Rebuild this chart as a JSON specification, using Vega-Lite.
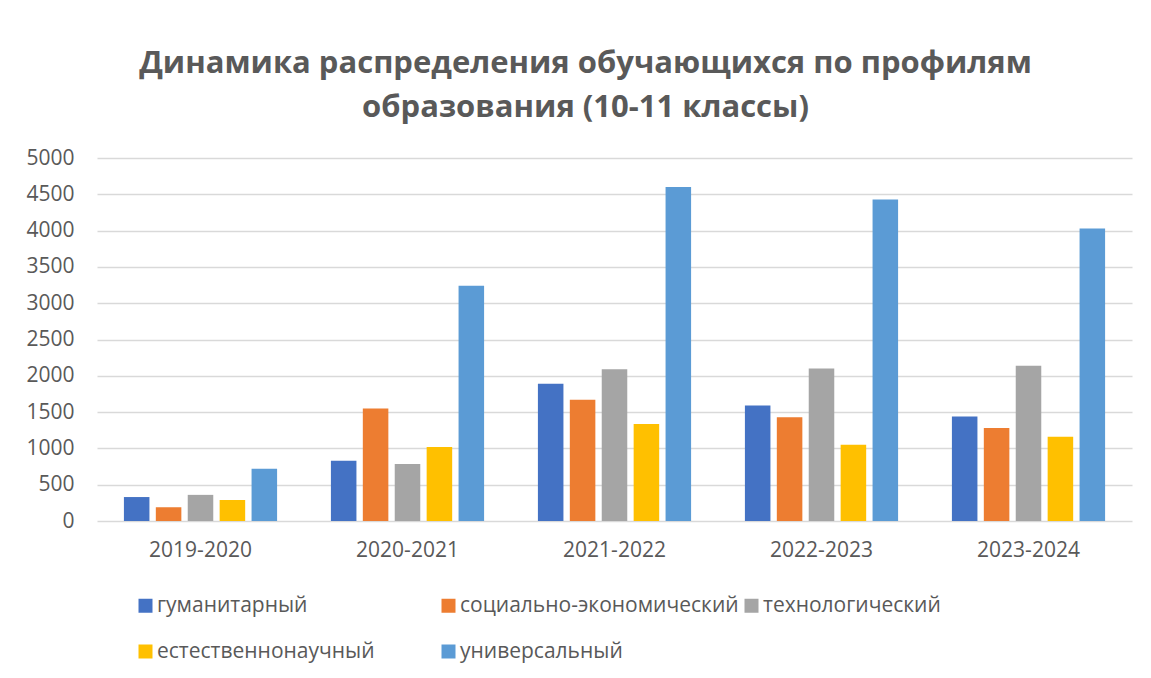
{
  "$schema": "https://vega.github.io/schema/vega-lite/v6.json",
  "width": 1035,
  "height": 363,
  "autosize": {"type": "none"},
  "padding": {"left": 97, "top": 158, "right": 19, "bottom": 157},
  "background": "white",
  "config": {
    "font": "Open Sans",
    "view": {"stroke": null}
  },
  "title": {
    "text": ["Динамика распределения обучающихся по профилям", "образования (10-11 классы)"],
    "font": "Open Sans",
    "fontSize": 31,
    "fontWeight": "bold",
    "color": "#595959",
    "lineHeight": 44,
    "anchor": "middle",
    "dx": -29,
    "offset": 23
  },
  "data": {
    "values": [
      {"year": "2019-2020", "profile": "гуманитарный", "value": 330},
      {"year": "2019-2020", "profile": "социально-экономический", "value": 190},
      {"year": "2019-2020", "profile": "технологический", "value": 360},
      {"year": "2019-2020", "profile": "естественнонаучный", "value": 290},
      {"year": "2019-2020", "profile": "универсальный", "value": 720},
      {"year": "2020-2021", "profile": "гуманитарный", "value": 830},
      {"year": "2020-2021", "profile": "социально-экономический", "value": 1550},
      {"year": "2020-2021", "profile": "технологический", "value": 785},
      {"year": "2020-2021", "profile": "естественнонаучный", "value": 1020},
      {"year": "2020-2021", "profile": "универсальный", "value": 3240},
      {"year": "2021-2022", "profile": "гуманитарный", "value": 1890},
      {"year": "2021-2022", "profile": "социально-экономический", "value": 1670},
      {"year": "2021-2022", "profile": "технологический", "value": 2090},
      {"year": "2021-2022", "profile": "естественнонаучный", "value": 1335},
      {"year": "2021-2022", "profile": "универсальный", "value": 4600},
      {"year": "2022-2023", "profile": "гуманитарный", "value": 1590},
      {"year": "2022-2023", "profile": "социально-экономический", "value": 1430},
      {"year": "2022-2023", "profile": "технологический", "value": 2100},
      {"year": "2022-2023", "profile": "естественнонаучный", "value": 1050},
      {"year": "2022-2023", "profile": "универсальный", "value": 4430},
      {"year": "2023-2024", "profile": "гуманитарный", "value": 1440},
      {"year": "2023-2024", "profile": "социально-экономический", "value": 1280},
      {"year": "2023-2024", "profile": "технологический", "value": 2140},
      {"year": "2023-2024", "profile": "естественнонаучный", "value": 1160},
      {"year": "2023-2024", "profile": "универсальный", "value": 4030}
    ]
  },
  "mark": {"type": "bar"},
  "encoding": {
    "x": {
      "field": "year",
      "type": "nominal",
      "sort": null,
      "scale": {"paddingInner": 0.26, "paddingOuter": 0.13},
      "axis": {
        "title": null,
        "labelAngle": 0,
        "labelFontSize": 21,
        "labelColor": "#595959",
        "labelFont": "Open Sans",
        "labelPadding": 18,
        "ticks": false,
        "domain": false
      }
    },
    "xOffset": {
      "field": "profile",
      "type": "nominal",
      "sort": ["гуманитарный", "социально-экономический", "технологический", "естественнонаучный", "универсальный"],
      "scale": {"paddingInner": 0.2, "paddingOuter": 0}
    },
    "y": {
      "field": "value",
      "type": "quantitative",
      "scale": {"domain": [0, 5000], "nice": false},
      "axis": {
        "title": null,
        "values": [0, 500, 1000, 1500, 2000, 2500, 3000, 3500, 4000, 4500, 5000],
        "format": "d",
        "labelFontSize": 21,
        "labelColor": "#595959",
        "labelFont": "Open Sans",
        "labelPadding": 23,
        "ticks": false,
        "domain": false,
        "grid": true,
        "gridColor": "#d9d9d9",
        "gridWidth": 1.5
      }
    },
    "color": {
      "field": "profile",
      "type": "nominal",
      "sort": ["гуманитарный", "социально-экономический", "технологический", "естественнонаучный", "универсальный"],
      "scale": {
        "domain": ["гуманитарный", "социально-экономический", "технологический", "естественнонаучный", "универсальный"],
        "range": ["#4472C4", "#ED7D31", "#A5A5A5", "#FFC000", "#5B9BD5"]
      },
      "legend": {
        "title": null,
        "orient": "none",
        "legendX": 38,
        "legendY": 437,
        "direction": "horizontal",
        "columns": 3,
        "gridAlign": "all",
        "columnPadding": 2,
        "rowPadding": 24,
        "symbolType": "square",
        "symbolSize": 196,
        "symbolStrokeWidth": 0,
        "labelFontSize": 21,
        "labelFont": "Open Sans",
        "labelColor": "#595959",
        "labelOffset": 1,
        "labelLimit": 400
      }
    }
  }
}
